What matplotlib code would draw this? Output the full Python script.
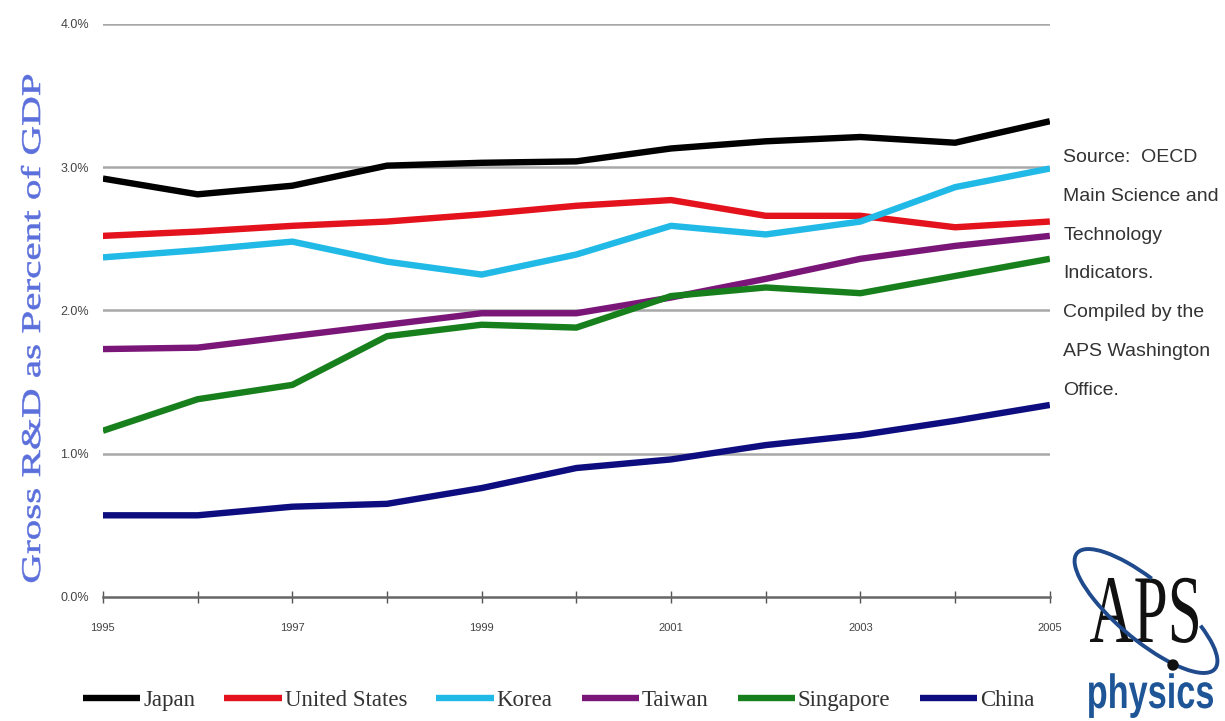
import numpy as np
import matplotlib.pyplot as plt
from matplotlib.patches import Arc, PathPatch, Circle
from matplotlib.textpath import TextPath
from matplotlib.font_manager import FontProperties
from matplotlib.transforms import Affine2D, IdentityTransform

years = list(range(1995, 2006))
year_labels = ['1995', '', '1997', '', '1999', '', '2001', '', '2003', '', '2005']

japan = [2.92, 2.81, 2.87, 3.01, 3.03, 3.04, 3.13, 3.18, 3.21, 3.17, 3.32]
usa = [2.52, 2.55, 2.59, 2.62, 2.67, 2.73, 2.77, 2.66, 2.66, 2.58, 2.62]
korea = [2.37, 2.42, 2.48, 2.34, 2.25, 2.39, 2.59, 2.53, 2.62, 2.86, 2.99]
taiwan = [1.73, 1.74, 1.82, 1.90, 1.98, 1.98, 2.09, 2.22, 2.36, 2.45, 2.52]
singapore = [1.16, 1.38, 1.48, 1.82, 1.90, 1.88, 2.10, 2.16, 2.12, 2.24, 2.36]
china = [0.57, 0.57, 0.63, 0.65, 0.76, 0.90, 0.96, 1.06, 1.13, 1.23, 1.34]

names = ['Japan', 'United States', 'Korea', 'Taiwan', 'Singapore', 'China']
series = [japan, usa, korea, taiwan, singapore, china]
colors = ['#000000', '#e3121c', '#21b9e6', '#7b1679', '#17801c', '#0d0d80']

source = ['Source:  OECD', 'Main Science and', 'Technology', 'Indicators.',
          'Compiled by the', 'APS Washington', 'Office.']

sans = ['Liberation Sans', 'DejaVu Sans']
serif = ['Liberation Serif', 'DejaVu Serif']

fig = plt.figure(figsize=(12.25, 7.21), dpi=100)
ax = fig.add_axes([0.084, 0.172, 0.773, 0.795])

for s, n, c in zip(series, names, colors):
    ax.plot(years, s, color=c, lw=4.6, label=n, solid_capstyle='butt', zorder=3)

ax.set_xlim(1995, 2005)
ax.set_ylim(0, 4.0)
ax.set_yticks([0, 1, 2, 3, 4])
ax.set_yticklabels(['0.0%', '1.0%', '2.0%', '3.0%', '4.0%'],
                   family=sans, fontsize=9, color='#444444')
ax.set_xticks(years)
ax.set_xticklabels(year_labels, family=sans, fontsize=8, color='#444444')
ax.tick_params(axis='y', length=0, pad=10)
ax.tick_params(axis='x', direction='inout', length=9, width=1, color='#555555', pad=14)

for v in [1, 2, 3, 4]:
    ax.axhline(v, color='#a8a8a8', lw=1.8, zorder=1)
for side in ['top', 'right', 'left']:
    ax.spines[side].set_visible(False)
ax.spines['bottom'].set_color('#666666')
ax.spines['bottom'].set_linewidth(1.8)

leg = fig.legend(loc='center', bbox_to_anchor=(0.456, 0.029), ncol=6, frameon=False,
                 handlelength=2.5, handletextpad=0.13, columnspacing=1.27,
                 prop={'family': 'Liberation Serif', 'size': 16.5})
for t in leg.get_texts():
    t.set_color('#333333')

for i, line in enumerate(source):
    fig.text(0.868, 0.782 - i * 0.054, line, family=sans, fontsize=14,
             color='#333333', va='center', ha='left')


# text drawn as a path so it can be stretched to the shape in the picture (pixel space)
def stretched(text, family, x, y, w, h, color, weight='normal', rot=0):
    tp = TextPath((0, 0), text, size=1, prop=FontProperties(family=family, weight=weight))
    ext = tp.get_extents()
    tr = Affine2D().translate(-ext.x0, 0).scale(w / ext.width, h).rotate_deg(rot).translate(x, y)
    fig.add_artist(PathPatch(tr.transform_path(tp), facecolor=color, edgecolor='#5c70dc' if rot else 'none',
                             lw=0.4, transform=IdentityTransform()))


# y axis title, reading bottom to top
stretched('Gross R&D as Percent of GDP', 'Liberation Serif', 40, 721 - 582, 507, 27,
          '#5c70dc', rot=90)

# APS physics logo
stretched('APS', 'Liberation Serif', 1090, 721 - 642, 108, 97, '#111111')
stretched('physics', 'Liberation Sans', 1089, 721 - 708, 124, 48, '#1e5596', weight='bold')
fig.add_artist(Arc((1146, 110), 180, 58, angle=-40, theta1=120, theta2=25,
                   transform=IdentityTransform(), color='#1f4a8c', lw=2.8))
fig.add_artist(Circle((1173, 721 - 665), 5, transform=IdentityTransform(),
                      color='#111111'))

fig.savefig('out.png', dpi=100)
